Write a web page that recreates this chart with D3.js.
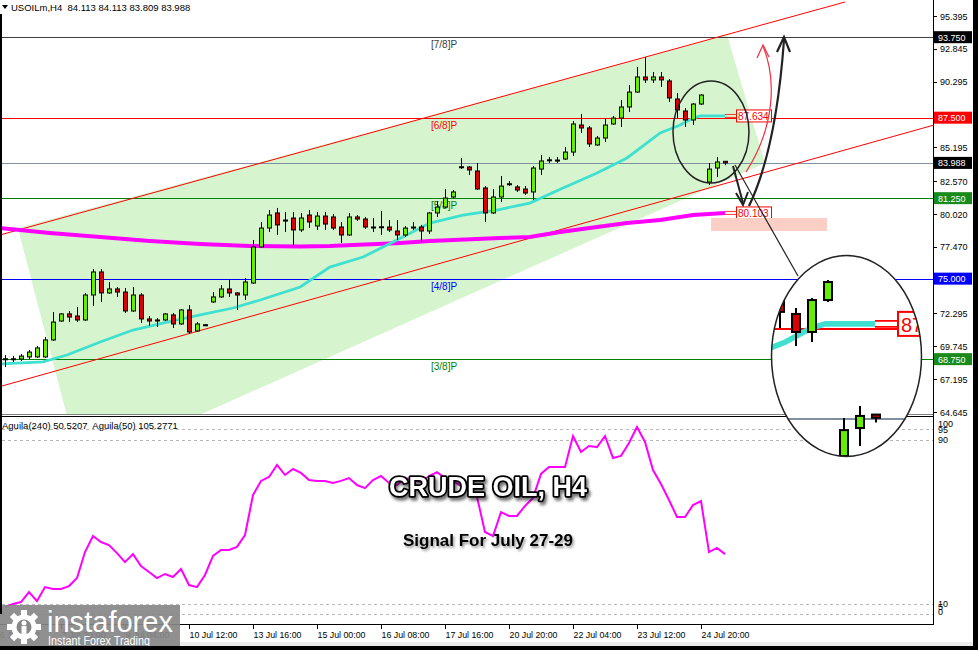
<!DOCTYPE html>
<html><head><meta charset="utf-8">
<script src="https://cdn.jsdelivr.net/npm/d3@7/dist/d3.min.js"></script>
<style>
html,body{margin:0;padding:0;background:#fff;overflow:hidden;}
svg{display:block;}
text{font-family:"Liberation Sans",Arial,sans-serif;}
</style></head><body>
<svg id="c" width="978" height="650"></svg>
<script>
// ---------- DATA ----------
const symbolHeader = "USOILm,H4  84.113 84.113 83.809 83.988";
const indicatorHeader = "Aguila(240) 50.5207  Aguila(50) 105.2771";
const openP = [68.76,68.76,68.76,68.92,68.92,68.92,70.24,71.71,72.26,72.10,
  71.79,73.73,75.52,73.89,74.20,73.96,72.49,73.73,71.87,71.79,
  71.79,72.18,71.48,72.57,70.94,71.42,73.19,73.58,74.20,73.89,
  73.73,74.66,77.46,78.93,80.10,79.55,79.71,78.78,79.94,79.09,
  79.86,79.79,79.01,78.39,79.79,79.63,79.01,79.01,79.01,78.70,
  78.39,78.93,79.01,78.70,80.10,80.56,81.34,83.67,83.67,83.36,
  82.04,80.10,81.34,82.35,82.12,81.96,81.73,83.51,84.21,84.21,
  84.29,84.83,86.93,86.70,85.38,85.92,87.01,87.47,88.33,89.49,
  90.66,90.43,90.66,90.35,88.95,88.02,87.32,88.56,82.50,83.59,84.113];
const highP = [69.07,69.00,69.15,69.46,69.77,70.47,72.41,72.33,72.49,72.80,
  73.89,75.75,75.75,74.74,74.35,74.27,74.35,73.89,72.10,71.94,
  72.33,72.33,72.64,72.95,71.63,71.48,73.96,74.51,74.97,73.96,
  75.05,78.00,79.40,80.33,80.49,80.18,80.18,80.10,80.33,80.18,
  80.18,80.02,79.40,80.10,79.94,79.79,79.71,80.25,79.55,79.55,
  79.09,79.40,79.17,80.18,81.03,81.96,81.88,84.37,83.75,83.98,
  82.19,81.96,82.97,82.58,82.27,82.19,83.75,84.60,84.45,84.45,
  85.22,87.24,87.79,86.85,86.08,87.47,87.63,88.87,90.04,91.43,
  92.21,91.05,91.05,90.50,89.42,88.25,88.64,89.34,83.98,84.45,84.113];
const lowP = [68.14,68.53,68.61,68.76,68.84,68.84,70.16,71.63,71.63,71.63,
  71.71,72.88,73.19,73.81,73.58,72.33,72.41,71.56,71.32,71.25,
  71.71,71.17,71.40,70.70,70.86,71.32,73.11,73.50,73.58,72.57,
  73.34,74.58,77.38,78.62,78.39,78.62,77.61,78.62,78.93,78.78,
  78.78,78.78,77.77,78.31,79.48,78.86,78.62,78.39,78.62,78.00,
  78.23,78.78,77.85,78.47,79.79,80.49,81.26,83.51,83.05,81.88,
  79.40,80.02,80.95,82.19,81.73,81.50,81.11,83.05,83.98,83.98,
  84.21,84.52,86.31,85.22,85.30,85.61,86.93,86.78,87.94,89.42,
  90.19,90.19,89.88,88.72,87.47,86.78,86.93,88.48,82.27,82.89,83.809];
const closeP = [68.78,68.78,68.99,69.30,69.62,70.24,71.63,72.26,72.02,71.79,
  73.73,75.52,73.89,74.20,73.96,72.49,73.73,71.87,71.71,71.77,
  72.26,71.48,72.57,70.86,71.48,71.40,73.58,74.20,73.89,73.73,
  74.74,77.46,78.93,79.94,79.17,79.52,78.78,79.71,79.40,79.86,
  79.24,78.93,78.39,79.79,79.63,79.01,79.00,79.03,78.78,78.39,
  78.93,79.01,78.70,80.10,80.56,81.26,81.73,83.69,83.44,81.96,
  80.10,81.34,82.19,82.37,81.88,81.65,83.59,84.14,84.23,84.19,
  84.83,87.01,86.70,85.46,85.92,86.93,87.47,88.33,89.49,90.66,
  90.43,90.66,90.43,89.03,88.10,87.32,88.56,89.26,83.51,84.06,83.988];
// fast MA (turquoise) : [bar index, price]
const fastMA = [[-0.6,68.37],[4.75,68.53],[7.75,69.07],[11.9,70.08],[16,71.01],[20.25,71.63],[24.4,72.18],[28.5,72.72],[31.9,73.34],[36.9,74.35],[40.6,75.90],[44.75,76.68],[49,78.00],[53.1,79.32],[57.25,79.94],[61.5,80.33],[65.6,80.87],[69.75,82.04],[74,83.20],[77.75,84.37],[81.9,86.31],[84.4,86.93],[86,87.47],[86.9,87.634],[90,87.634]];
// slow MA (magenta)
const slowMA = [[-0.6,78.93],[5.6,78.54],[11.9,78.23],[18.1,77.92],[24.4,77.69],[30.6,77.53],[36.9,77.50],[40.6,77.53],[49.4,77.77],[53.1,77.92],[61.9,78.16],[65.6,78.23],[69.4,78.62],[74,79.01],[77.75,79.32],[81.9,79.55],[86,79.94],[90,80.103]];
// Aguila oscillator, one value per bar
const aguila = [8.3,9.8,10.7,15.6,11.2,18.0,17.1,17.1,18.5,22.4,
  35.1,42.9,40.0,38.5,34.6,30.2,34.1,28.3,25.4,22.4,
  24.4,22.9,26.8,19.0,18.0,23.9,33.2,36.1,36.1,37.6,
  43.4,62.9,69.8,71.7,77.6,72.7,75.6,73.7,70.2,69.8,
  69.8,68.8,69.8,71.2,67.8,66.3,70.2,72.2,68.8,67.8,
  71.2,70.2,69.3,72.2,74.1,71.2,69.8,67.3,65.4,62.0,
  44.9,42.9,54.6,52.7,52.7,57.6,61.5,73.2,76.6,76.6,
  76.6,91.7,83.9,86.8,86.3,91.7,81.0,82.0,88.3,96.1,
  88.8,75.1,68.3,60.5,52.2,52.2,58.0,60.0,35.1,37.1,34.1];
const priceTicks = [95.395,92.845,90.295,85.195,82.570,80.020,77.470,72.295,69.745,67.195,64.645];
const levelValues = [93.750,87.500,81.250,75.000,68.750];
const levelNames  = ["[7/8]P","[6/8]P","[5/8]P","[4/8]P","[3/8]P"];
const levelColors = ["#404040","#ff0000","#008000","#0000ff","#008000"];
const lastPrice = 83.988;
const indTicks = [100,95,90,10,5,0];
const indDashed = [95,90,10,5];
const timeTickIdx = [0,7,15,23,31,39,47,55,63,71,79,87];
const timeTickLabels = ["6 Jul 2022","7 Jul 20:00","9 Jul 04:00","10 Jul 12:00","13 Jul 16:00","15 Jul 00:00","16 Jul 08:00","17 Jul 16:00","20 Jul 20:00","22 Jul 04:00","23 Jul 12:00","24 Jul 20:00"];
// channel lines (bar index, price)
const channelUpper = [[-0.625,78.39],[105,96.48]];
const channelLower = [[-0.625,66.62],[121.6,87.88]];
// shaded area vertices (bar index, price)
const shadeArea = [[1.6,78.93],[90.25,93.92],[95,83.98],[9.45,60.30]];
const targetZone = [[88.25,79.71],[102.75,78.70]];
const maLabels = [["87.634",87.634],["80.103",80.103]];
const title = "CRUDE OIL, H4";
const subtitle = "Signal For July 27-29";

// ---------- SCALES ----------
const svg = d3.select("#c");
const x = d3.scaleLinear().domain([0,90]).range([5,725]);
const y = d3.scaleLinear().domain([64.645,95.395]).range([412,16]);
const ya = d3.scaleLinear().domain([0,100]).range([624,419]);
const AX = 933, PANEL_B = 414;

svg.append("rect").attr("width",978).attr("height",650).attr("fill","#fff");
const defs = svg.append("defs");
defs.append("clipPath").attr("id","mainClip").append("rect").attr("x",2).attr("y",0).attr("width",AX-2).attr("height",PANEL_B);
defs.append("clipPath").attr("id","indClip").append("rect").attr("x",2).attr("y",417).attr("width",AX-2).attr("height",207);
defs.append("clipPath").attr("id","bigClip").append("ellipse").attr("cx",846.5).attr("cy",356).attr("rx",75).attr("ry",100.5);
const f = defs.append("filter").attr("id","sh").attr("x","-10%").attr("y","-30%").attr("width","130%").attr("height","180%");
f.append("feDropShadow").attr("dx",2).attr("dy",3).attr("stdDeviation",1.5).attr("flood-color","#000").attr("flood-opacity",0.55);
const f2 = defs.append("filter").attr("id","sh2").attr("x","-10%").attr("y","-30%").attr("width","130%").attr("height","180%");
f2.append("feDropShadow").attr("dx",1.5).attr("dy",2).attr("stdDeviation",1).attr("flood-color","#000").attr("flood-opacity",0.4);

const line = d3.line().x(d=>x(d[0])).y(d=>y(d[1]));
const FS = 9;

// core layer drawn both in main chart and in magnified inset
function drawCore(g, inset){
  levelValues.forEach((v,k)=>{
    g.append("line").attr("x1",-100).attr("x2",AX).attr("y1",Math.round(y(v))+0.5).attr("y2",Math.round(y(v))+0.5)
      .attr("stroke",levelColors[k]).attr("stroke-width",1);
  });
  g.append("line").attr("x1",-100).attr("x2",AX).attr("y1",Math.round(y(lastPrice))+0.5).attr("y2",Math.round(y(lastPrice))+0.5)
    .attr("stroke","#8090a0").attr("stroke-width",1);
  if(!inset){
    levelValues.forEach((v,k)=>{
      g.append("text").attr("x",431).attr("y",y(v)+11).attr("font-size",10).attr("fill",levelColors[k]).text(levelNames[k]);
    });
    g.append("path").attr("d",line(channelUpper)).attr("stroke","#ff0000").attr("fill","none");
    g.append("path").attr("d",line(channelLower)).attr("stroke","#ff0000").attr("fill","none");
    g.append("path").attr("d",line(slowMA)).attr("stroke","#ff00ff").attr("stroke-width",4).attr("fill","none");
  }
  g.append("path").attr("d",line(fastMA)).attr("stroke","#40e0d0").attr("stroke-width",2.8).attr("fill","none");
  const bars = d3.range(openP.length);
  g.selectAll(null).data(bars).enter().append("line")
    .attr("x1",i=>x(i)+0.5).attr("x2",i=>x(i)+0.5).attr("y1",i=>y(highP[i])).attr("y2",i=>y(lowP[i]))
    .attr("stroke","#000").attr("stroke-width",1);
  g.selectAll(null).data(bars).enter().append("rect")
    .attr("x",i=>x(i)-1.5).attr("width",4)
    .attr("y",i=>Math.min(y(openP[i]),y(closeP[i])))
    .attr("height",i=>Math.max(1,Math.abs(y(openP[i])-y(closeP[i]))))
    .attr("fill",i=>closeP[i]>=openP[i]?"#66ee00":"#dd0000")
    .attr("stroke","#000").attr("stroke-width",1);
  // MA value labels
  maLabels.forEach(([t,v])=>{
    const yy=y(v);
    g.append("line").attr("x1",x(90)).attr("x2",736).attr("y1",yy-1.5).attr("y2",yy-1.5).attr("stroke","#ff0000").attr("stroke-width",0.8);
    g.append("line").attr("x1",x(90)).attr("x2",736).attr("y1",yy+1.5).attr("y2",yy+1.5).attr("stroke","#ff0000").attr("stroke-width",0.8);
    g.append("rect").attr("x",736.5).attr("y",yy-6).attr("width",35).attr("height",12).attr("fill","#fff").attr("stroke","#ff0000");
    g.append("text").attr("x",738).attr("y",yy+4).attr("font-size",10).attr("fill","#ff0000").text(t);
  });
}

// ---------- MAIN PANEL ----------
const main = svg.append("g").attr("clip-path","url(#mainClip)");
main.append("path").attr("d","M"+shadeArea.map(d=>x(d[0])+","+y(d[1])).join("L")+"Z").attr("fill","#d6f5cf");
drawCore(main,false);
// small ellipse
main.append("ellipse").attr("cx",711).attr("cy",132).attr("rx",38).attr("ry",51).attr("fill","none").attr("stroke","#222").attr("stroke-width",1.5);
// target zone
main.append("rect").attr("x",x(targetZone[0][0])).attr("y",y(targetZone[0][1])).attr("width",x(targetZone[1][0])-x(targetZone[0][0])).attr("height",y(targetZone[1][1])-y(targetZone[0][1])).attr("fill","#fbcfc6");
// arrows
main.append("path").attr("d","M746,172 C776,125 776,78 763,46").attr("fill","none").attr("stroke","#f03040").attr("stroke-width",1.2);
main.append("path").attr("d","M757,58 L763,45 L769,57").attr("fill","none").attr("stroke","#f03040").attr("stroke-width",1.2);
main.append("path").attr("d","M749,206 Q776,150 784,40").attr("fill","none").attr("stroke","#222").attr("stroke-width",2.2);
main.append("path").attr("d","M777,52 L784,37 L790,52").attr("fill","none").attr("stroke","#222").attr("stroke-width",2.2);
main.append("path").attr("d","M733,166 L743,203").attr("fill","none").attr("stroke","#222").attr("stroke-width",2);
main.append("path").attr("d","M736,193 L743,205 L748,192").attr("fill","none").attr("stroke","#222").attr("stroke-width",2);
main.append("path").attr("d","M735,165 L798,276").attr("stroke","#222").attr("stroke-width",1.2);

// header
svg.append("path").attr("d","M2,5 L8,5 L5,9 Z").attr("fill","#000");
svg.append("text").attr("x",11).attr("y",11).attr("font-size",9.5).attr("fill","#000").attr("xml:space","preserve").text(symbolHeader);

// price axis
svg.append("line").attr("x1",AX+0.5).attr("x2",AX+0.5).attr("y1",0).attr("y2",625).attr("stroke","#000");
priceTicks.forEach(v=>{
  svg.append("line").attr("x1",AX).attr("x2",AX+4).attr("y1",Math.round(y(v))+0.5).attr("y2",Math.round(y(v))+0.5).attr("stroke","#000");
  svg.append("text").attr("x",AX+7).attr("y",y(v)+3.5).attr("font-size",FS).text(v.toFixed(3));
});
const boxes = [[93.750,"#000"],[87.500,"#ff0000"],[lastPrice,"#000"],[81.250,"#1a8a1a"],[75.000,"#0000ff"],[68.750,"#1a8a1a"]];
boxes.forEach(([v,c])=>{
  svg.append("rect").attr("x",AX+1).attr("y",y(v)-6).attr("width",38).attr("height",12).attr("fill",c);
  svg.append("text").attr("x",AX+5).attr("y",y(v)+3.5).attr("font-size",FS).attr("fill","#fff").text(v.toFixed(3));
});

// separators
svg.append("line").attr("x1",0).attr("x2",AX).attr("y1",414.5).attr("y2",414.5).attr("stroke","#808080");
svg.append("line").attr("x1",0).attr("x2",AX).attr("y1",416.5).attr("y2",416.5).attr("stroke","#000");

// ---------- INDICATOR ----------
const ind = svg.append("g").attr("clip-path","url(#indClip)");
indDashed.forEach(v=>{
  ind.append("line").attr("x1",2).attr("x2",AX).attr("y1",Math.round(ya(v))+0.5).attr("y2",Math.round(ya(v))+0.5)
    .attr("stroke","#b8b8b8").attr("stroke-dasharray","3,3");
});
ind.append("path").attr("d",d3.line().x((d,i)=>x(i)).y(d=>ya(d))(aguila)).attr("fill","none").attr("stroke","#ff00ff").attr("stroke-width",2);
svg.append("text").attr("x",2).attr("y",429).attr("font-size",9.5).attr("xml:space","preserve").text(indicatorHeader);
indTicks.forEach(v=>{
  let yy = ya(v)+3.5;
  if(yy<427) yy=427;
  if(yy>614) yy = v===0?615:610;
  svg.append("text").attr("x",AX+5).attr("y",yy).attr("font-size",FS).text(v);
});

// time axis
svg.append("rect").attr("x",0).attr("y",642).attr("width",978).attr("height",4).attr("fill","#ececec");
svg.append("line").attr("x1",0).attr("x2",AX).attr("y1",624.5).attr("y2",624.5).attr("stroke","#000");
timeTickIdx.forEach((i,k)=>{
  const xx = Math.round(x(i))+0.5;
  if(k>0) svg.append("line").attr("x1",xx).attr("x2",xx).attr("y1",625).attr("y2",629).attr("stroke","#000");
  const t = timeTickLabels[k];
  svg.append("text").attr("x",k===0?0:xx).attr("y",638).attr("font-size",FS)
    .attr("textLength",t.length*4).attr("lengthAdjust","spacingAndGlyphs").text(t);
});

// titles
svg.append("text").attr("x",488).attr("y",496).attr("text-anchor","middle").attr("font-size",27).attr("font-weight","bold")
  .attr("fill","#fff").attr("stroke","#000").attr("stroke-width",3.5).attr("paint-order","stroke").attr("stroke-linejoin","round")
  .attr("textLength",198).attr("lengthAdjust","spacingAndGlyphs").attr("filter","url(#sh)").text(title);
svg.append("text").attr("x",488).attr("y",546).attr("text-anchor","middle").attr("font-size",16.5).attr("font-weight","bold")
  .attr("fill","#000").attr("textLength",170).attr("lengthAdjust","spacingAndGlyphs").attr("filter","url(#sh2)").text(subtitle);

// logo
const logo = svg.append("g");
logo.append("rect").attr("x",0).attr("y",605).attr("width",180).attr("height",43).attr("fill","#878787").attr("opacity",0.92);
const gear = logo.append("g").attr("transform","translate(24,627)");
d3.range(8).forEach(k=>{
  gear.append("rect").attr("x",-3).attr("y",-17).attr("width",6).attr("height",8).attr("fill","#fff").attr("transform","rotate("+(k*45)+")");
});
gear.append("circle").attr("r",12.5).attr("fill","#fff");
gear.append("circle").attr("r",7.5).attr("fill","#878787");
gear.append("circle").attr("cy",-4).attr("r",2.5).attr("fill","#fff");
gear.append("rect").attr("x",-2.5).attr("y",-1).attr("width",5).attr("height",14).attr("fill","#fff");
logo.append("text").attr("x",47).attr("y",632).attr("font-size",29).attr("fill","#fff").attr("textLength",126).attr("lengthAdjust","spacingAndGlyphs").text("instaforex");
logo.append("text").attr("x",48).attr("y",645).attr("font-size",12).attr("fill","#fff").attr("textLength",102).attr("lengthAdjust","spacingAndGlyphs").text("Instant Forex Trading");

// big magnifier ellipse
svg.append("ellipse").attr("cx",846.5).attr("cy",356).attr("rx",75).attr("ry",100.5).attr("fill","#fff");
const inset = svg.append("g").attr("clip-path","url(#bigClip)").append("g").attr("transform","translate(-575,92) scale(2)");
drawCore(inset,true);
svg.append("ellipse").attr("cx",846.5).attr("cy",356).attr("rx",75).attr("ry",100.5).attr("fill","none").attr("stroke","#222").attr("stroke-width",1.5);

// frame
svg.append("rect").attr("x",0).attr("y",14).attr("width",2).attr("height",600).attr("fill","#000");
svg.append("rect").attr("x",973).attr("y",0).attr("width",5).attr("height",650).attr("fill","#000");
svg.append("rect").attr("x",0).attr("y",646).attr("width",978).attr("height",4).attr("fill","#000");
</script>
</body></html>
